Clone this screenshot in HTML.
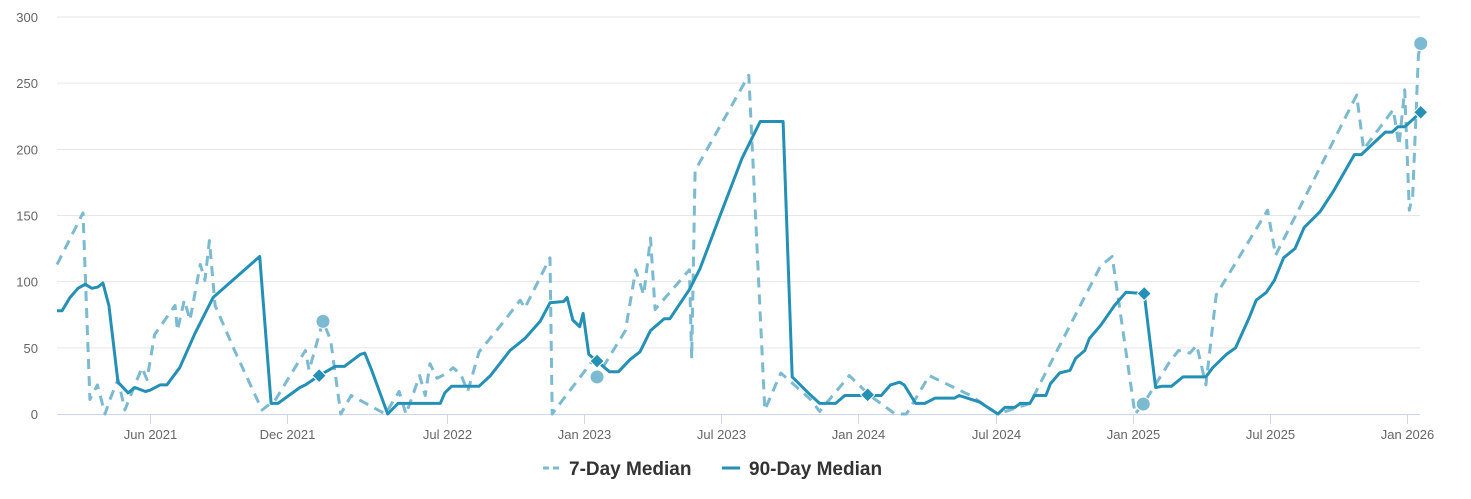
<!DOCTYPE html>
<html><head><meta charset="utf-8">
<style>
body{margin:0;background:#fff;font-family:"Liberation Sans",sans-serif;}
svg{display:block}
</style></head>
<body>
<svg id="chart" width="1471" height="499" viewBox="0 0 1471 499" xmlns="http://www.w3.org/2000/svg"></svg>
<script>
// ---- data (month index: 0 = Jan 2021) ----
const yTicks = [0, 50, 100, 150, 200, 250, 300];
const xTickMonths = [5, 11, 18, 24, 30, 36, 42, 48, 54, 60];
const xTickLabels = ["Jun 2021","Dec 2021","Jul 2022","Jan 2023","Jul 2023","Jan 2024","Jul 2024","Jan 2025","Jul 2025","Jan 2026"];

const d90Months = [0.93,1.15,1.5,1.85,2.16,2.46,2.72,2.94,3.2,3.6,4.04,4.34,4.8,5,5.44,5.74,6.3,6.97,7.76,9.8,10.3,10.6,11.56,11.8,12.4,13.1,13.5,14.2,14.4,14.7,15.4,15.85,17.7,17.9,18.2,19.4,19.9,20.75,21.4,22.07,22.5,23.1,23.25,23.5,23.8,23.95,24.2,24.56,25.1,25.5,26,26.44,26.9,27.5,27.75,28.6,29.07,29.9,30.9,31.7,32.7,33.1,33.8,34.3,35,35.4,36.2,37,37.4,37.8,38,38.5,38.9,39.35,40.2,40.4,41.3,42.1,42.4,42.85,43.07,43.5,43.7,44.2,44.4,44.8,45.26,45.5,45.9,46.1,46.6,47.2,47.7,48.5,49,49.3,49.7,50.2,51.2,51.5,52.1,52.5,53.1,53.4,53.85,54.2,54.6,55.1,55.5,56.2,56.8,57.7,58,59.05,59.35,59.6,59.9,60.6];
const d90Values = [78,78,88,95,98,95,96,99,82,24,16,20,17,18,22,22,35,61,88,119,8,8,20,22,29,36,36,45,46,33,0,8,8,16,21,21,29,48,57,70,84,85,88,71,66,76,45,40,32,32,41,47,63,72,72,94,110,148,193,221,221,28,16,8,8,14,14,14,22,24,22,8,8,12,12,14,9,0,5,5,8,8,14,14,23,31,33,42,48,57,67,82,92,91,20,21,21,28,28,35,45,50,73,86,92,101,118,125,141,153,169,196,196,213,213,217,217,228];

const d7Months = [0.93,2.07,2.37,2.7,3.03,3.25,3.6,3.9,4.34,4.65,4.87,5.2,6.1,6.2,6.5,6.75,7.2,7.4,7.6,7.85,8.7,9.9,10.5,11.8,11.96,12.4,12.57,12.9,13.35,13.8,15.3,15.9,16.2,16.8,17.04,17.25,17.56,18,18.26,18.6,18.9,19.4,20.3,21.2,21.4,22.5,22.6,22.9,24.4,24.56,25.8,26.25,26.6,26.9,27.1,28.6,28.7,28.85,31.2,31.9,32.6,33.9,34.3,35.6,36.5,37.6,38.1,39.1,40.9,42.1,43.5,46.6,47.1,48.1,48.46,49.6,50,50.5,50.8,51.2,51.65,53.9,54.25,57.8,58.1,59.4,59.65,59.9,60.1,60.25,60.5,60.6];
const d7Values = [113,152,11,22,0,11,26,3,22,35,26,60,82,63,86,71,113,101,131,82,48,3,11,48,33,60,70,56,0,14,0,17,0,29,14,38,27,31,35,30,17,47,66,86,80,118,0,7,41,28,63,109,90,133,79,109,42,184,256,3,31,11,2,29,14,0,0,29,14,0,8,112,119,0,7.5,39,48,46,52,22,90,154,120,241,200,230,203,245,154,165,271,280];

const d7MarkerMonths = [12.57, 24.56, 48.46, 60.6];
const d7MarkerValues = [70, 28, 7.5, 280];
const d90MarkerMonths = [12.4, 24.56, 36.4, 48.5, 60.6];
const d90MarkerValues = [29, 40, 14.5, 91, 228];

// ---- axes ----
const X0 = 57, X1 = 1420, Y0 = 414, Y300 = 17;
function xs(m){ return 150 + (m - 5) * (1257 / 55); }
function ys(v){ return Y0 - v * (Y0 - Y300) / 300; }

const svg = document.getElementById('chart');
const NS = 'http://www.w3.org/2000/svg';
function mk(tag, attrs, parent){
  const e = document.createElementNS(NS, tag);
  for (const k in attrs) e.setAttribute(k, attrs[k]);
  (parent || svg).appendChild(e);
  return e;
}

yTicks.forEach(function(t){
  if (t > 0) {
    const g = mk('line', {x1:X0, x2:X1, y1:ys(t), y2:ys(t), stroke:'#e6e6e6', 'stroke-width':1});
    
    
  }
  const lb = mk('text', {x:38, y:ys(t) + 5, 'text-anchor':'end', 'font-size':13, fill:'#666'});
  lb.textContent = t;
  
  
});

const ax = mk('line', {x1:X0, x2:X1, y1:Y0 + 0.5, y2:Y0 + 0.5, stroke:'#ccd6eb', 'stroke-width':1});


xTickMonths.forEach(function(m, i){
  const x = Math.round(xs(m)) + 0.5;
  const tk = mk('line', {x1:x, x2:x, y1:Y0, y2:Y0 + 10, stroke:'#ccd6eb', 'stroke-width':1});
  
  
  const lb = mk('text', {x:x, y:439, 'text-anchor':'middle', 'font-size':13, fill:'#666'});
  lb.textContent = xTickLabels[i];
  
  
});

function pathFrom(ms, vs){
  return ms.map(function(m, i){ return (i ? 'L' : 'M') + xs(m).toFixed(1) + ' ' + ys(vs[i]).toFixed(1); }).join(' ');
}

const p7 = mk('path', {d:pathFrom(d7Months, d7Values), fill:'none', stroke:'#7bbad1', 'stroke-width':3, 'stroke-dasharray':'10,7', 'stroke-linejoin':'round'});



const p90 = mk('path', {d:pathFrom(d90Months, d90Values), fill:'none', stroke:'#2490b5', 'stroke-width':3, 'stroke-linejoin':'round'});



d7MarkerMonths.forEach(function(m, i){
  const c = mk('circle', {cx:xs(m), cy:ys(d7MarkerValues[i]), r:7, fill:'#7bbad1', stroke:'#fff', 'stroke-width':1});
  
  
});
d90MarkerMonths.forEach(function(m, i){
  const x = xs(m), y = ys(d90MarkerValues[i]), s = 7;
  const d = mk('path', {d:'M'+x+' '+(y-s)+' L'+(x+s)+' '+y+' L'+x+' '+(y+s)+' L'+(x-s)+' '+y+' Z', fill:'#2490b5', stroke:'#fff', 'stroke-width':1});
  
  
});

const lg = mk('g', {});


const l1 = mk('line', {x1:543, x2:559, y1:468, y2:468, stroke:'#7bbad1', 'stroke-width':3, 'stroke-dasharray':'6,4'}, lg);


const t1 = mk('text', {x:569, y:475, 'font-size':19, 'font-weight':'bold', fill:'#333'}, lg);
t1.textContent = '7-Day Median';


const l2 = mk('line', {x1:722, x2:740, y1:468, y2:468, stroke:'#2490b5', 'stroke-width':3}, lg);


const t2 = mk('text', {x:749, y:475, 'font-size':19, 'font-weight':'bold', fill:'#333'}, lg);
t2.textContent = '90-Day Median';


</script>
</body></html>
